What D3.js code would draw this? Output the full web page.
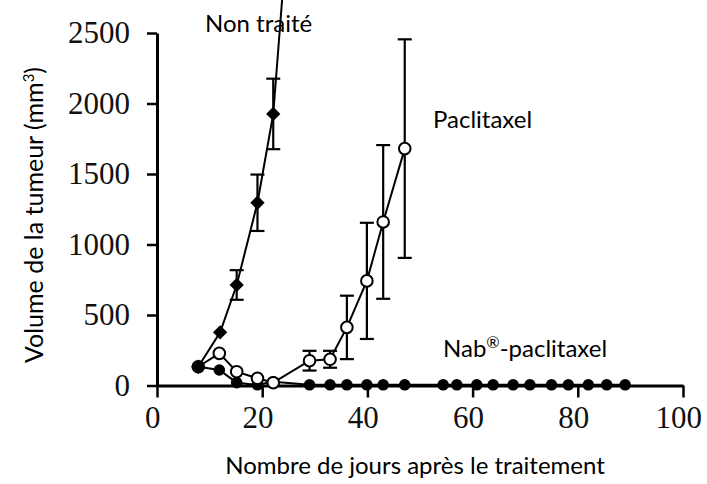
<!DOCTYPE html>
<html>
<head>
<meta charset="utf-8">
<script src="https://cdn.jsdelivr.net/npm/d3@7"></script>
<style>
  body { margin:0; background:#fff; }
  .axis path, .axis line { stroke:#000; }
  .axis text { font-family:"Liberation Serif", serif; font-size:31px; fill:#111; }
  .lbl { font-family:Lato, "Open Sans", sans-serif; fill:#000; }
</style>
</head>
<body>
<div id="chart"></div>
<script>
// values, days on x, tumour volume in mm3 on y
const xTicks = [0, 20, 40, 60, 80, 100];
const yTicks = [0, 500, 1000, 1500, 2000, 2500];

const nonTraiteDays = [7.85, 12.0, 15.15, 19.1, 22.1, 26];
const nonTraiteVol  = [133, 377, 713, 1296, 1926, 3800];
const nonTraiteErr  = [0, 0, 105, 200, 250, 0];

const paclitaxelDays = [7.85, 11.85, 15.15, 19.1, 22.1, 29.0, 32.9, 36.1, 39.9, 43.0, 47.1];
const paclitaxelVol  = [133, 228, 98, 51, 20, 176, 186, 412, 742, 1160, 1680];
const paclitaxelErr  = [0, 0, 0, 0, 0, 70, 60, 225, 412, 545, 775];

const nabDays = [7.85, 11.85, 15.15, 19.1, 22.1, 29.0, 32.9, 36.1, 39.9, 43.0, 47.1,
                 54.4, 57.0, 60.8, 63.9, 67.7, 70.9, 75.0, 78.2, 82.0, 85.5, 89.0];
const nabVol  = [133, 110, 20, 5, 27, 5, 5, 5, 5, 5, 5,
                 5, 5, 5, 5, 5, 5, 5, 5, 5, 5, 5];

const W = 707, H = 484;
const m = { top:33, right:24, bottom:98.5, left:157 };
const iw = W - m.left - m.right, ih = H - m.top - m.bottom;

const svg = d3.select("#chart").append("svg").attr("width", W).attr("height", H);
const g = svg.append("g").attr("transform", `translate(${m.left},${m.top})`);

const x = d3.scaleLinear().domain([0, 100]).range([0, iw]);
const y = d3.scaleLinear().domain([0, 2500]).range([ih, 0]);

const gx = g.append("g").attr("class","axis").attr("transform", `translate(0,${ih})`)
  .call(d3.axisBottom(x).tickValues(xTicks).tickFormat(d3.format("d"))
    .tickSize(12).tickSizeOuter(0).tickPadding(8));
gx.select(".domain").attr("stroke-width", 3);
gx.selectAll(".tick line").attr("stroke-width", 2.5);
gx.selectAll(".tick text").attr("dx", "-0.15em");

const gy = g.append("g").attr("class","axis")
  .call(d3.axisLeft(y).tickValues(yTicks).tickFormat(d3.format("d"))
    .tickSize(10).tickSizeOuter(0).tickPadding(17));
gy.select(".domain").attr("stroke-width", 3);
gy.selectAll(".tick line").attr("stroke-width", 2.5);

// titles
svg.append("text").attr("class","lbl")
  .attr("transform", "translate(43,215) rotate(-90)")
  .attr("text-anchor","middle").attr("font-size", 25)
  .call(t => {
    t.append("tspan").text("Volume de la tumeur (mm");
    t.append("tspan").attr("baseline-shift","super").attr("font-size",15).text("3");
    t.append("tspan").text(")");
  });
svg.append("text").attr("class","lbl")
  .attr("x", 415).attr("y", 474).attr("text-anchor","middle").attr("font-size", 24)
  .text("Nombre de jours après le traitement");

// series
const pts = (days, vals, errs) => days.map((d, i) => ({ d, v: vals[i], e: errs ? errs[i] : 0 }));
const nonTraite = pts(nonTraiteDays, nonTraiteVol, nonTraiteErr);
const paclitaxel = pts(paclitaxelDays, paclitaxelVol, paclitaxelErr);
const nab = pts(nabDays, nabVol, null);

const line = d3.line().x(p => x(p.d)).y(p => y(p.v));

function errorBars(data) {
  const eb = g.append("g").attr("stroke", "#000").attr("stroke-width", 2.2);
  data.filter(p => p.e > 0).forEach(p => {
    const cx = x(p.d), y1 = y(p.v + p.e), y0 = y(p.v - p.e);
    eb.append("line").attr("x1", cx).attr("x2", cx).attr("y1", y1).attr("y2", y0);
    eb.append("line").attr("x1", cx-7).attr("x2", cx+7).attr("y1", y1).attr("y2", y1);
    eb.append("line").attr("x1", cx-7).attr("x2", cx+7).attr("y1", y0).attr("y2", y0);
  });
}

// nab-paclitaxel: filled circles along the bottom
g.append("path").datum(nab).attr("fill","none").attr("stroke","#000").attr("stroke-width",2).attr("d", line);
g.selectAll(".nab").data(nab).enter().append("circle").attr("class","nab")
  .attr("cx", p => x(p.d)).attr("cy", p => y(p.v)).attr("r", 5.8).attr("fill", "#000");

// paclitaxel: open circles
errorBars(paclitaxel);
g.append("path").datum(paclitaxel).attr("fill","none").attr("stroke","#000").attr("stroke-width",2).attr("d", line);
g.selectAll(".pac").data(paclitaxel).enter().append("circle").attr("class","pac")
  .attr("cx", p => x(p.d)).attr("cy", p => y(p.v)).attr("r", 5.8)
  .attr("fill", "#fff").attr("stroke", "#000").attr("stroke-width", 2);

// non traite: filled diamonds, last one runs off the top
errorBars(nonTraite);
g.append("path").datum(nonTraite).attr("fill","none").attr("stroke","#000").attr("stroke-width",2).attr("d", line);
g.selectAll(".nt").data(nonTraite).enter().append("path").attr("class","nt")
  .attr("transform", p => `translate(${x(p.d)},${y(p.v)})`)
  .attr("d", d3.symbol().type(d3.symbolDiamond2).size(130)).attr("fill", "#000");

// series labels
svg.append("text").attr("class","lbl").attr("x", 205).attr("y", 32).attr("font-size", 24).text("Non traité");
svg.append("text").attr("class","lbl").attr("x", 433).attr("y", 128).attr("font-size", 24).text("Paclitaxel");
svg.append("text").attr("class","lbl").attr("x", 443).attr("y", 357).attr("font-size", 24)
  .call(t => {
    t.append("tspan").text("Nab");
    t.append("tspan").attr("baseline-shift","super").attr("font-size",16).text("®");
    t.append("tspan").text("-paclitaxel");
  });
</script>
</body>
</html>
